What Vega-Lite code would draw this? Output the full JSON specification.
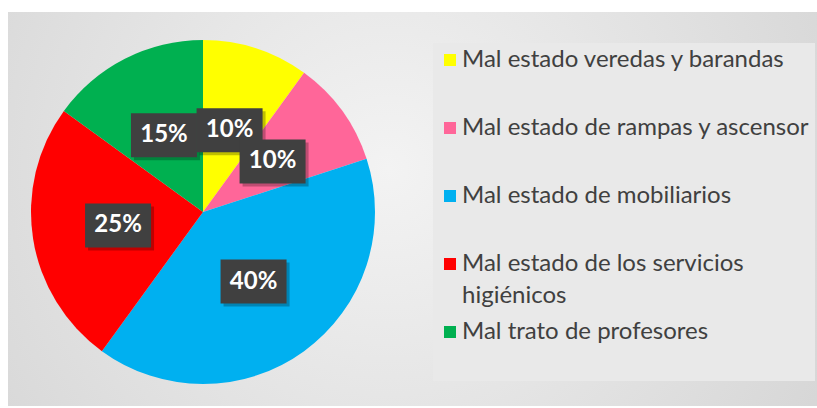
{
  "$schema": "https://vega.github.io/schema/vega-lite/v6.json",
  "width": 809,
  "height": 394,
  "autosize": "none",
  "padding": {"left": 8, "top": 12, "right": 0, "bottom": 2},
  "background": "#ffffff",
  "data": {
    "values": [
      {"idx": 1, "categoria": "Mal estado veredas y barandas", "pct": 10},
      {"idx": 2, "categoria": "Mal estado de rampas y ascensor", "pct": 10},
      {"idx": 3, "categoria": "Mal estado de mobiliarios", "pct": 40},
      {"idx": 4, "categoria": "Mal estado de los servicios higiénicos", "pct": 25},
      {"idx": 5, "categoria": "Mal trato de profesores", "pct": 15}
    ]
  },
  "layer": [
    {
      "mark": {"type": "arc", "outerRadius": 172, "strokeWidth": 0},
      "encoding": {
        "x": {"datum": 0, "type": "quantitative", "scale": {"domain": [-195, 614], "nice": false, "zero": false}, "axis": null},
        "y": {"datum": 0, "type": "quantitative", "scale": {"domain": [-194, 200], "nice": false, "zero": false}, "axis": null},
        "theta": {"field": "pct", "type": "quantitative", "stack": true},
        "order": {"field": "idx", "type": "quantitative"},
        "color": {
          "field": "categoria",
          "type": "nominal",
          "sort": null,
          "scale": {
            "domain": ["Mal estado veredas y barandas", "Mal estado de rampas y ascensor", "Mal estado de mobiliarios", "Mal estado de los servicios higiénicos", "Mal trato de profesores"],
            "range": ["#FFFF00", "#FF6699", "#00B0F0", "#FF0000", "#00B050"]
          },
          "legend": {
            "title": null,
            "orient": "none",
            "legendX": 425,
            "legendY": 31,
            "fillColor": "#e9e9e9",
            "padding": 5,
            "symbolOffset": 0,
            "symbolType": "square",
            "symbolSize": 144,
            "symbolStrokeWidth": 0,
            "symbolOpacity": 1,
            "labelFont": "Lato",
            "labelFontSize": 24,
            "labelColor": "#404040",
            "labelLimit": 600,
            "labelOffset": 0,
            "rowPadding": 12,
            "labelExpr": "datum.label == 'Mal estado de los servicios higiénicos' ? ['Mal estado de los servicios', 'higiénicos'] : [datum.label, '']"
          }
        }
      }
    },
    {
      "transform": [
        {"joinaggregate": [{"op": "sum", "field": "pct", "as": "total"}]},
        {"window": [{"op": "sum", "field": "pct", "as": "cum"}], "sort": [{"field": "idx"}], "frame": [null, 0]},
        {"calculate": "(datum.cum - datum.pct / 2) / datum.total * 2 * PI", "as": "ang"},
        {"calculate": "86 * sin(datum.ang)", "as": "lx"},
        {"calculate": "86 * cos(datum.ang)", "as": "ly"},
        {"calculate": "datum.pct + '%'", "as": "etiqueta"}
      ],
      "encoding": {
        "x": {"field": "lx", "type": "quantitative", "scale": {"domain": [-195, 614], "nice": false, "zero": false}, "axis": null},
        "y": {"field": "ly", "type": "quantitative", "scale": {"domain": [-194, 200], "nice": false, "zero": false}, "axis": null}
      },
      "layer": [
        {
          "mark": {"type": "point", "shape": "M-1.5,-1H1.5V1H-1.5Z", "size": 1936, "filled": true, "color": "#000000", "opacity": 0.25, "strokeWidth": 0, "xOffset": 3, "yOffset": 3}
        },
        {
          "mark": {"type": "point", "shape": "M-1.5,-1H1.5V1H-1.5Z", "size": 1936, "filled": true, "color": "#404040", "opacity": 1, "strokeWidth": 0}
        },
        {
          "mark": {"type": "text", "font": "Lato", "fontWeight": "bold", "fontSize": 24, "color": "#ffffff"},
          "encoding": {"text": {"field": "etiqueta", "type": "nominal"}}
        }
      ]
    }
  ],
  "config": {
    "view": {
      "stroke": null,
      "fill": {
        "gradient": "radial",
        "x1": 0.47, "y1": 0.45, "x2": 0.47, "y2": 0.45,
        "r1": 0, "r2": 0.75,
        "stops": [{"offset": 0, "color": "#f3f3f3"}, {"offset": 1, "color": "#d0d0d0"}]
      }
    },
    "style": {"guide-label": {"lineHeight": 32}}
  }
}
